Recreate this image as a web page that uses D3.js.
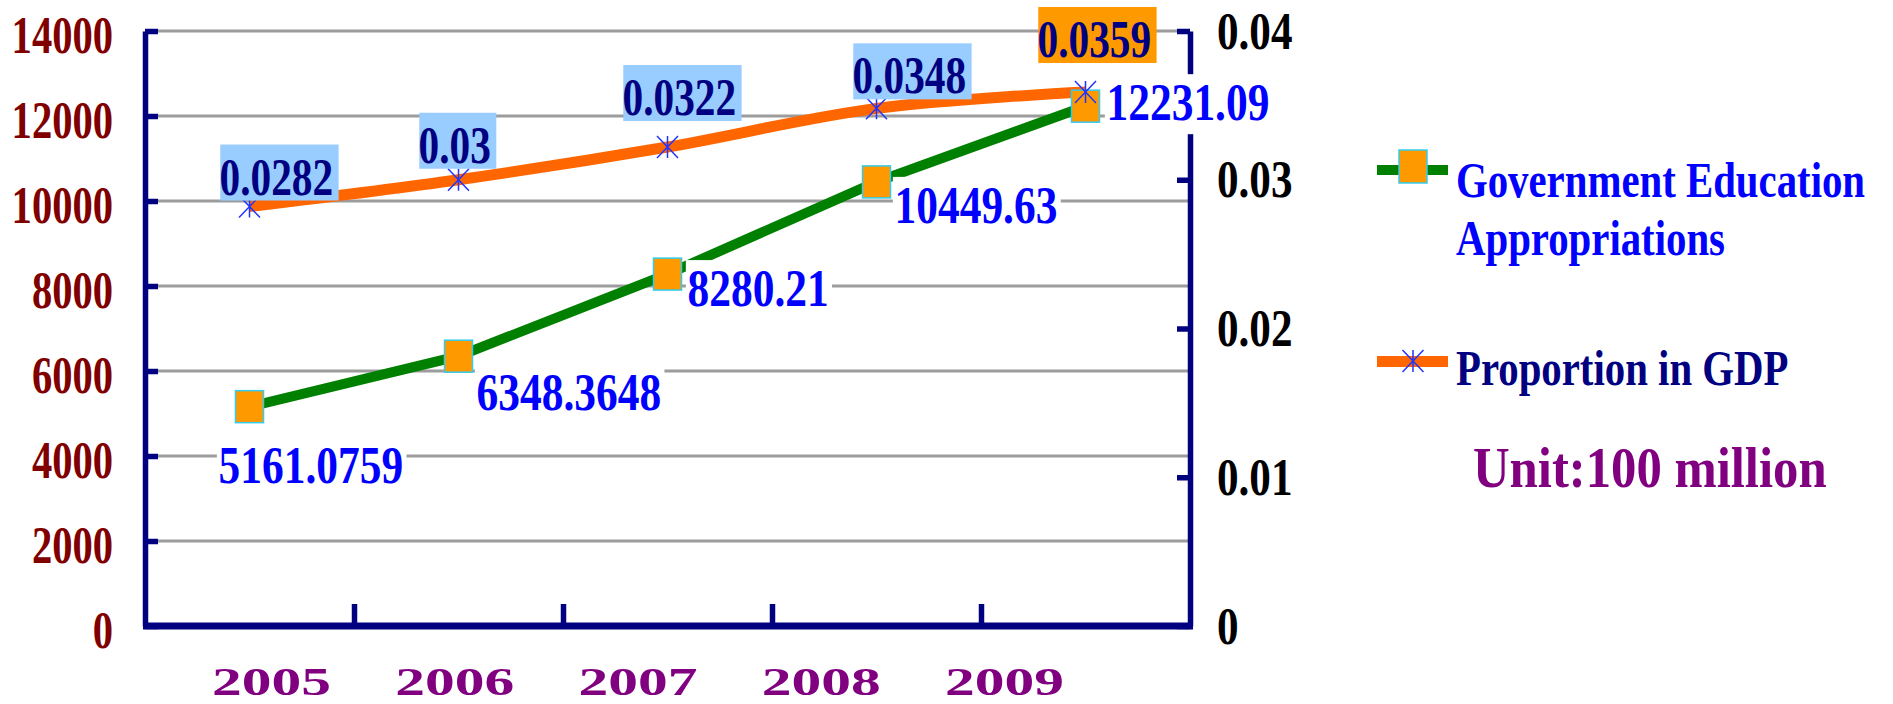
<!DOCTYPE html>
<html>
<head>
<meta charset="utf-8">
<script src="https://cdn.jsdelivr.net/npm/d3@7"></script>
<style>
	body { margin: 0; background: #fff; }
	svg text { font-family: "Liberation Serif", "Times New Roman", serif; font-weight: bold; }
</style>
</head>
<body>
<div id="chart"></div>
<script>
var years = ["2005", "2006", "2007", "2008", "2009"];
var appropriations = [5161.0759, 6348.3648, 8280.21, 10449.63, 12231.09];
var appropriationLabels = ["5161.0759", "6348.3648", "8280.21", "10449.63", "12231.09"];
var gdpShare = [0.0282, 0.03, 0.0322, 0.0348, 0.0359];
var gdpShareLabels = ["0.0282", "0.03", "0.0322", "0.0348", "0.0359"];
var leftTicks = [0, 2000, 4000, 6000, 8000, 10000, 12000, 14000];
var leftTickLabels = ["0", "2000", "4000", "6000", "8000", "10000", "12000", "14000"];
var rightTicks = [0, 0.01, 0.02, 0.03, 0.04];
var rightTickLabels = ["0", "0.01", "0.02", "0.03", "0.04"];
var seriesNames = [["Government Education", "Appropriations"], ["Proportion in GDP"]];
var unitText = "Unit:100 million";

// where each value label sits relative to its marker (text left, baseline)
var apprOffset = [[-31, 76], [18, 54], [20, 32], [18, 41], [21, 14]];
var shareOffset = [[-30, -12], [-40, -17], [-45, -32], [-24, -15], [-48, -35]];

var width = 1893;
var height = 704;
var plotLeft = 145, plotRight = 1190, plotTop = 31, plotBottom = 626;

var navy = "#000080";

var svg = d3.select('#chart')
	.append('svg')
	.attr('width', width)
	.attr('height', height);

var x = d3.scaleBand().domain(years).range([plotLeft, plotRight]);
var xEdge = d3.scaleLinear().domain([0, years.length]).range([plotLeft, plotRight]);
var xLabel = d3.scalePoint().domain(years).range([271, 1004]);
var yL = d3.scaleLinear().domain([0, 14000]).range([plotBottom, plotTop]);
var yR = d3.scaleLinear().domain([0, 0.04]).range([plotBottom, plotTop]);

function cx(d, i) { return x(years[i]) + x.bandwidth() / 2; }

// gridlines
svg.append('g')
	.selectAll('line')
	.data(leftTicks.filter(function(d) { return d > 0; }))
	.enter()
	.append('line')
	.attr('x1', plotLeft).attr('x2', plotRight)
	.attr('y1', function(d) { return yL(d); })
	.attr('y2', function(d) { return yL(d); })
	.attr('stroke', '#9c9c9c')
	.attr('stroke-width', 3);

// left axis
var axL = svg.append('g')
	.attr('transform', 'translate(' + plotLeft + ',0)')
	.call(d3.axisLeft(yL).tickValues(leftTicks).tickSize(-13).tickSizeOuter(0).tickPadding(32)
		.tickFormat(function(d, i) { return leftTickLabels[i]; }));
axL.selectAll('.domain, line').attr('stroke', navy).attr('stroke-width', 5.5);
axL.selectAll('text')
	.attr('x', null).attr('dy', null)
	.attr('transform', 'translate(-32,21) scale(0.78,1)')
	.attr('font-size', 52)
	.attr('font-family', null)
	.attr('fill', '#800000');

// right axis
var axR = svg.append('g')
	.attr('transform', 'translate(' + plotRight + ',0)')
	.call(d3.axisRight(yR).tickValues(rightTicks).tickSize(-13).tickSizeOuter(0)
		.tickFormat(function(d, i) { return rightTickLabels[i]; }));
axR.selectAll('.domain, line').attr('stroke', navy).attr('stroke-width', 5.5);
axR.selectAll('text')
	.attr('x', null).attr('dy', null)
	.attr('text-anchor', 'start')
	.attr('transform', 'translate(27,17) scale(0.83,1)')
	.attr('font-size', 52)
	.attr('font-family', null)
	.attr('fill', '#000');

// bottom axis (ticks between categories)
var axB = svg.append('g')
	.attr('transform', 'translate(0,' + plotBottom + ')')
	.call(d3.axisBottom(xEdge).tickValues([1, 2, 3, 4]).tickSize(-22).tickSizeOuter(0).tickFormat(''));
axB.selectAll('.domain').attr('stroke', navy).attr('stroke-width', 7).attr('d', 'M' + (plotLeft - 2) + ',0H' + (plotRight + 3));
axB.selectAll('line').attr('stroke', navy).attr('stroke-width', 5.5);

var axX = svg.append('g')
	.attr('transform', 'translate(0,695)')
	.call(d3.axisBottom(xLabel).tickSize(0));
axX.select('.domain').remove();
axX.selectAll('text')
	.attr('y', null).attr('dy', null)
	.attr('transform', 'scale(1.45,1)')
	.attr('font-size', 41)
	.attr('font-family', null)
	.attr('fill', '#800080');

// lines
var lineL = d3.line()
	.x(cx)
	.y(function(d) { return yL(d); });
var lineR = d3.line()
	.x(cx)
	.y(function(d) { return yR(d); })
	.curve(d3.curveCatmullRom.alpha(0.5));

svg.append('path')
	.attr('d', lineL(appropriations))
	.attr('fill', 'none')
	.attr('stroke', '#008000')
	.attr('stroke-width', 10);

svg.append('path')
	.attr('d', lineR(gdpShare))
	.attr('fill', 'none')
	.attr('stroke', '#FF6600')
	.attr('stroke-width', 11);

var star = 'M0,-11V11M-10.5,-11L10.5,11M-10.5,11L10.5,-11';

svg.selectAll('.sq')
	.data(appropriations)
	.enter()
	.append('rect')
	.attr('class', 'sq')
	.attr('x', function(d, i) { return cx(d, i) - 14; })
	.attr('y', function(d) { return yL(d) - 16; })
	.attr('width', 28)
	.attr('height', 32)
	.attr('fill', '#FF9900')
	.attr('stroke', '#33CCEE')
	.attr('stroke-width', 1.5);

svg.selectAll('.star')
	.data(gdpShare)
	.enter()
	.append('path')
	.attr('class', 'star')
	.attr('d', star)
	.attr('transform', function(d, i) { return 'translate(' + cx(d, i) + ',' + yR(d) + ')'; })
	.attr('fill', 'none')
	.attr('stroke', '#2233FF')
	.attr('stroke-width', 1.5);

// value labels, green series (white boxes)
svg.selectAll('.apprLabel')
	.data(appropriations)
	.enter()
	.append('g')
	.attr('class', 'apprLabel')
	.attr('transform', function(d, i) {
		return 'translate(' + (cx(d, i) + apprOffset[i][0]) + ',' + (yL(d) + apprOffset[i][1]) + ') scale(0.82,1)';
	})
	.each(function(d, i) {
		var g = d3.select(this);
		var r = g.append('rect').attr('fill', '#fff');
		var t = g.append('text')
			.attr('font-size', 53)
			.attr('fill', '#0000FF')
			.text(appropriationLabels[i]);
		var bb = t.node().getBBox();
		r.attr('x', -2).attr('y', -46).attr('width', bb.width + 6).attr('height', 60);
	});

// value labels, share series (coloured boxes)
svg.selectAll('.shareLabel')
	.data(gdpShare)
	.enter()
	.append('g')
	.attr('class', 'shareLabel')
	.attr('transform', function(d, i) {
		return 'translate(' + (cx(d, i) + shareOffset[i][0]) + ',' + (yR(d) + shareOffset[i][1]) + ') scale(0.78,1)';
	})
	.each(function(d, i) {
		var g = d3.select(this);
		var r = g.append('rect').attr('fill', i === gdpShare.length - 1 ? '#FF9900' : '#99CCFF');
		var t = g.append('text')
			.attr('font-size', 53)
			.attr('fill', navy)
			.text(gdpShareLabels[i]);
		var bb = t.node().getBBox();
		r.attr('x', 1).attr('y', -50).attr('width', bb.width + 6).attr('height', 56);
	});

// legend
var legend = svg.append('g');

legend.append('line')
	.attr('x1', 1377).attr('x2', 1448).attr('y1', 170).attr('y2', 170)
	.attr('stroke', '#008000').attr('stroke-width', 10);
legend.append('rect')
	.attr('x', 1399).attr('y', 150).attr('width', 28).attr('height', 33)
	.attr('fill', '#FF9900').attr('stroke', '#33CCEE').attr('stroke-width', 1.5);
legend.append('line')
	.attr('x1', 1377).attr('x2', 1448).attr('y1', 361.5).attr('y2', 361.5)
	.attr('stroke', '#FF6600').attr('stroke-width', 11);
legend.append('path')
	.attr('d', star)
	.attr('transform', 'translate(1413,361)')
	.attr('fill', 'none').attr('stroke', '#2233FF').attr('stroke-width', 1.5);

var legendText = [
	{lines: seriesNames[0], y: 197, color: '#0000FF'},
	{lines: seriesNames[1], y: 385, color: navy}
];

legendText.forEach(function(item) {
	item.lines.forEach(function(s, j) {
		legend.append('text')
			.attr('transform', 'translate(1456,' + (item.y + j * 58) + ') scale(0.8,1)')
			.attr('font-size', 51)
			.attr('fill', item.color)
			.text(s);
	});
});

legend.append('text')
	.attr('transform', 'translate(1473,487) scale(0.89,1)')
	.attr('font-size', 57)
	.attr('fill', '#800080')
	.text(unitText);
</script>
</body>
</html>
